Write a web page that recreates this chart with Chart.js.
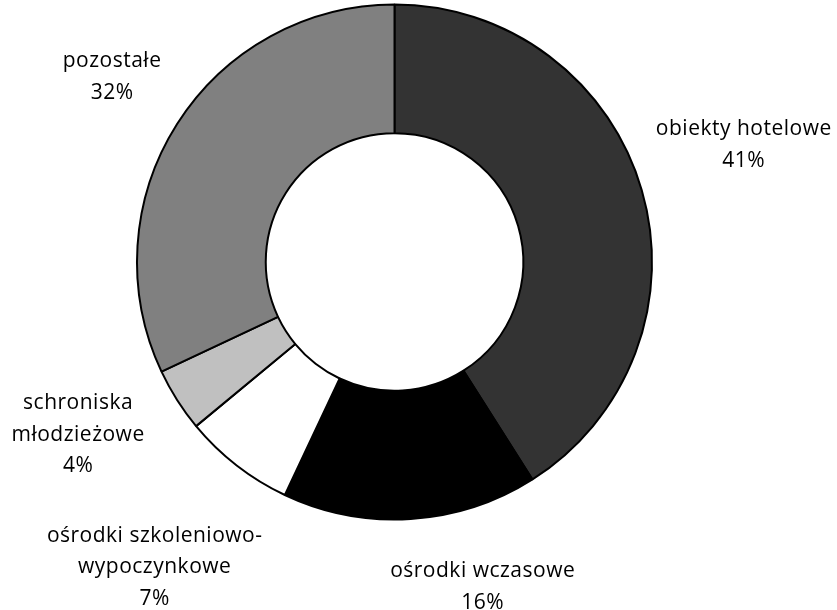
<!DOCTYPE html>
<html>
<head>
<meta charset="utf-8">
<script src="https://cdn.jsdelivr.net/npm/chart.js@4"></script>
<style>
    html, body { margin: 0; padding: 0; background: #fff; }
    canvas { display: block; }
</style>
</head>
<body>
<canvas id="chart" width="837" height="610"></canvas>
<script>
// Data
const categories = [
    ['obiekty hotelowe'],
    ['ośrodki wczasowe'],
    ['ośrodki szkoleniowo-', 'wypoczynkowe'],
    ['schroniska', 'młodzieżowe'],
    ['pozostałe']
];
const shares = [41, 16, 7, 4, 32];
const sliceColors = ['#333333', '#000000', '#ffffff', '#c0c0c0', '#808080'];

// label nudges from the outer edge of each slice (px)
const labelNudge = [[102, -45], [72, 68], [-82, 102], [-99, 35], [-65, -47]];

const outsideLabels = {
    id: 'outsideLabels',
    afterDatasetsDraw(chart) {
        const ctx = chart.ctx;
        const meta = chart.getDatasetMeta(0);
        ctx.save();
        ctx.font = '21px "Open Sans"';
        ctx.letterSpacing = '0.5px';
        ctx.fillStyle = '#000';
        ctx.textAlign = 'center';
        ctx.textBaseline = 'middle';
        const lineH = 31.5;
        meta.data.forEach((arc, i) => {
            const p = arc.getProps(['x', 'y', 'startAngle', 'endAngle', 'outerRadius'], true);
            const mid = (p.startAngle + p.endAngle) / 2;
            const cx = p.x + Math.cos(mid) * p.outerRadius + labelNudge[i][0];
            const cy = p.y + Math.sin(mid) * p.outerRadius + labelNudge[i][1];
            const lines = categories[i].concat([shares[i] + '%']);
            const top = cy - (lines.length - 1) * lineH / 2;
            lines.forEach((t, k) => ctx.fillText(t, cx, top + k * lineH));
        });
        ctx.restore();
    }
};

new Chart(document.getElementById('chart'), {
    type: 'doughnut',
    data: {
        labels: categories.map(c => c.join(' ')),
        datasets: [{
            data: shares,
            backgroundColor: sliceColors,
            borderColor: '#000',
            borderWidth: 2
        }]
    },
    options: {
        responsive: false,
        animation: false,
        devicePixelRatio: 1,
        cutout: '50%',
        layout: { padding: { left: 136, top: 3.5, right: 184, bottom: 89.5 } },
        plugins: {
            legend: { display: false },
            tooltip: { enabled: false }
        }
    },
    plugins: [outsideLabels]
});
</script>
</body>
</html>
